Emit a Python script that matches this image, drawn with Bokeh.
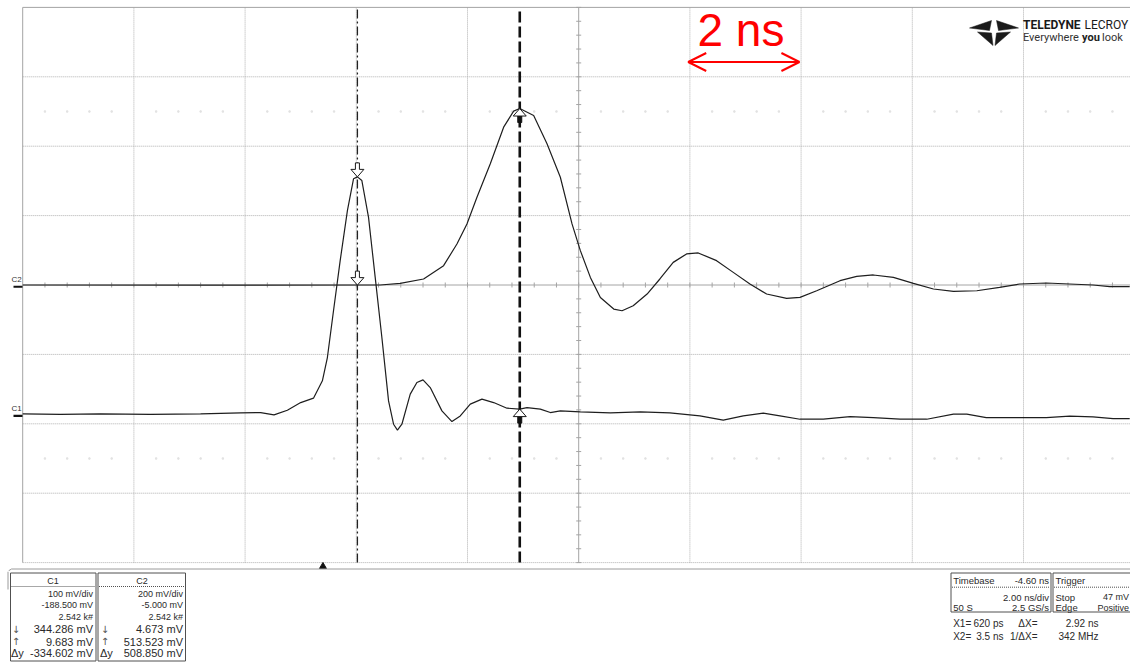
from bokeh.plotting import figure
from bokeh.models import Range1d, Arrow, OpenHead
from bokeh.layouts import column
from bokeh.core.properties import value
from bokeh.embed import file_html
from bokeh.resources import INLINE

# ---------------- data ----------------
C1_T = [-5.40, -4.72, -4.00, -3.10, -2.20, -1.48, -1.12, -0.88, -0.64, -0.40, -0.17, -0.01,
        0.08, 0.19, 0.31, 0.44, 0.55, 0.62, 0.70, 0.82, 0.94, 1.06, 1.18, 1.27, 1.34, 1.42,
        1.57, 1.69, 1.80, 1.93, 2.14, 2.32, 2.47, 2.65, 2.86, 3.07, 3.31, 3.54, 3.67, 3.91,
        4.09, 4.27, 4.63, 5.17, 5.71, 6.24, 6.78, 7.20, 7.56, 7.92, 8.22, 8.58, 9.00, 9.48,
        9.90, 10.38, 10.86, 11.34, 11.58, 11.93, 12.59, 13.01, 13.43, 13.85, 14.21, 14.51]
C1_MV = [2.8, 2.1, 2.8, 2.1, 2.8, 4.2, 4.7, 1.3, 8.1, 19.1, 25.4, 50.4,
         84.0, 151.4, 223.6, 295.7, 341.5, 344.3, 339.0, 286.0, 199.5, 112.9, 21.5, -12.1, -20.7, -12.1,
         31.2, 48.0, 51.8, 40.7, 7.1, -8.3, -0.1, 16.8, 24.0, 19.1, 11.0, 9.7, 11.9, 9.7,
         4.7, 7.1, 5.7, 4.2, 5.7, 4.2, -0.1, -6.3, -0.1, 3.8, -0.1, -4.9, -4.9, -1.1,
         -2.6, -4.9, -4.9, 2.4, 2.4, -2.6, -2.6, -2.6, -0.5, -1.5, -4.0, -4.0]

C2_T = [-5.40, -2.20, 1.03, 1.39, 1.81, 2.17, 2.41, 2.59, 2.77, 3.01, 3.25, 3.43, 3.54, 3.79,
        4.03, 4.27, 4.48, 4.63, 4.81, 4.99, 5.23, 5.38, 5.58, 5.83, 6.06, 6.30, 6.54, 6.75,
        7.08, 7.38, 7.68, 7.98, 8.34, 8.58, 8.88, 9.30, 9.60, 9.90, 10.26, 10.62, 10.98,
        11.34, 11.76, 12.17, 12.53, 13.01, 13.43, 13.85, 14.15, 14.51]
C2_MV = [5.0, 4.7, 5.0, 9.6, 22.3, 60.7, 123.3, 181.0, 257.8, 354.2, 459.8, 506.0, 513.5, 493.6,
         411.9, 315.5, 181.0, 104.0, 26.9, -30.8, -64.3, -69.2, -54.7, -21.0, 22.3, 70.2, 94.5, 97.4,
         75.1, 41.4, 7.9, -21.0, -33.7, -30.8, -11.5, 17.4, 29.8, 33.9, 26.9, 9.6, -6.5,
         -13.5, -11.5, -1.9, 7.9, 10.8, 7.9, 5.0, 0.1, 0.1]

C1_VDIV, C1_OFFSET = 100.0, -188.5
C2_VDIV, C2_OFFSET = 200.0, -5.0
NS_PER_DIV = 2.0
T_LEFT = -5.4          # time at the left edge of the graticule (ns)
TRIGGER_T = 0.0
X1_T, X2_T = 0.62, 3.54
C1_AT_CURSORS = [344.286, 9.683]
C2_AT_CURSORS = [4.673, 513.523]
SCALE_BAR_START, SCALE_BAR_LEN = 6.57, 2.0
SCALE_BAR_TEXT = "2 ns"

CH_NAMES = ["C1", "C2"]
C1_INFO = ["100 mV/div", "-188.500 mV", "2.542 k#"]
C1_MEAS = ["344.286 mV", "9.683 mV", "-334.602 mV"]
C2_INFO = ["200 mV/div", "-5.000 mV", "2.542 k#"]
C2_MEAS = ["4.673 mV", "513.523 mV", "508.850 mV"]
MEAS_SYMBOLS = ["\u2193", "\u2191", "\u0394y"]
TIMEBASE_TXT = ["Timebase", "-4.60 ns", "2.00 ns/div", "50 S", "2.5 GS/s"]
TRIGGER_TXT = ["Trigger", "Stop", "47 mV", "Edge", "Positive"]
CURSOR_ROW1 = ["X1=", "620 ps", "\u0394X=", "2.92 ns"]
CURSOR_ROW2 = ["X2=", "3.5 ns", "1/\u0394X=", "342 MHz"]
LOGO_TXT = ["TELEDYNE", "LECROY", "Everywhere", "you", "look"]

# ---------------- layout helpers (page pixels -> plot units) ----------------
W, H1, H2 = 1130, 571, 94
PX_NS = 55.6
PX_DIV = 69.4
X_GRID0 = 22.2
Y_CENTER = 284.5
FONT = value("Liberation Sans")


def px_t(x):
    return T_LEFT + (x - X_GRID0) / PX_NS


def py_d(y):
    return (Y_CENTER - y) / PX_DIV


Y_TOP = py_d(0)
Y_BOT = py_d(H1)
X_END = px_t(W)

p1 = figure(width=W, height=H1, x_range=Range1d(px_t(0), X_END), y_range=Range1d(Y_BOT, Y_TOP),
            output_backend="svg", toolbar_location=None, x_axis_type=None, y_axis_type=None,
            min_border=0, outline_line_color=None, background_fill_color="white",
            border_fill_color="white")
p1.extra_y_ranges = {
    "c1": Range1d(Y_BOT * C1_VDIV - C1_OFFSET, Y_TOP * C1_VDIV - C1_OFFSET),
    "c2": Range1d(Y_BOT * C2_VDIV - C2_OFFSET, Y_TOP * C2_VDIV - C2_OFFSET),
}

# graticule
CENTER_T = T_LEFT + 5 * NS_PER_DIV
vgrid = [T_LEFT + NS_PER_DIV * k for k in range(1, 10) if k != 5]
hgrid = [-4, -3, -2, -1, 1, 2, 3]
p1.segment(x0=vgrid, y0=-4, x1=vgrid, y1=4, line_color="#b0b0b0", line_width=1, line_dash="1 1")
p1.segment(x0=T_LEFT, y0=hgrid, x1=X_END, y1=hgrid, line_color="#b0b0b0", line_width=1, line_dash="1 1")
faint = [T_LEFT + 0.4 * i for i in range(1, 50) if i % 5 != 0]
p1.scatter(faint, [2.5] * len(faint), marker="square", size=1.4, color="#e2e2e2")
p1.scatter(faint, [-2.5] * len(faint), marker="square", size=1.4, color="#e2e2e2")
# borders and centre axes
p1.segment(x0=[T_LEFT, CENTER_T], y0=[-4, -4], x1=[T_LEFT, CENTER_T], y1=[4, 4],
           line_color="#a4a4a4", line_width=1)
p1.segment(x0=[T_LEFT, T_LEFT], y0=[4, 0], x1=[X_END, X_END], y1=[4, 0],
           line_color="#a4a4a4", line_width=1)
ht = [T_LEFT + 0.4 * i for i in range(1, 50)]
p1.segment(x0=ht, y0=-2.5 / PX_DIV, x1=ht, y1=2.5 / PX_DIV, line_color="#a4a4a4", line_width=1)
vt = [0.2 * i for i in range(-20, 21) if i != 0]
p1.segment(x0=CENTER_T - 2.5 / PX_NS, y0=vt, x1=CENTER_T + 2.5 / PX_NS, y1=vt,
           line_color="#a4a4a4", line_width=1)

# traces
p1.line(C2_T, C2_MV, y_range_name="c2", line_color="#1e1e1e", line_width=1.2)
p1.line(C1_T, C1_MV, y_range_name="c1", line_color="#1e1e1e", line_width=1.2)

# cursors
p1.segment(x0=[X1_T], y0=[-4], x1=[X1_T], y1=[4], line_color="#222222", line_width=1.3,
           line_dash="9 3 2 3")
p1.segment(x0=[X2_T], y0=[-4], x1=[X2_T], y1=[4], line_color="#111111", line_width=2.6,
           line_dash="11 4")

DOWN_ARROW = [(0, 0), (6.5, 7.5), (2, 7.5), (2, 14), (-2, 14), (-2, 7.5), (-6.5, 7.5)]
UP_HEAD = [(0, 0), (6.5, -7.5), (-6.5, -7.5)]
UP_SHAFT = [(-2, -7.5), (2, -7.5), (2, -14), (-2, -14)]


def shape_at(t, v, vdiv, shape):
    k = vdiv / PX_DIV
    return [t + dx / PX_NS for dx, dy in shape], [v + dy * k for dx, dy in shape]


for name, vdiv, vals in (("c1", C1_VDIV, C1_AT_CURSORS), ("c2", C2_VDIV, C2_AT_CURSORS)):
    sx, sy = shape_at(X2_T, vals[1], vdiv, UP_SHAFT)
    p1.patches([sx], [sy], y_range_name=name, fill_color="#111111", line_color="#111111")
    dx_, dy_ = shape_at(X1_T, vals[0], vdiv, DOWN_ARROW)
    hx, hy = shape_at(X2_T, vals[1], vdiv, UP_HEAD)
    p1.patches([dx_, hx], [dy_, hy], y_range_name=name, fill_color="white", line_color="#1a1a1a",
               line_width=1)

# channel ground markers
g1 = (0 + C1_OFFSET) / C1_VDIV
g2 = (0 + C2_OFFSET) / C2_VDIV
p1.segment(x0=px_t(13), y0=[g1, g2], x1=px_t(22), y1=[g1, g2], line_color="#111111", line_width=2.2)
p1.text(x=[px_t(11), px_t(11)], y=[g1 + 2.5 / PX_DIV, g2 + 2.5 / PX_DIV], text=CH_NAMES,
        text_font=FONT, text_font_size="8px", text_color="#333333", text_baseline="bottom")

# trigger marker
p1.scatter([TRIGGER_T], [py_d(566)], marker="triangle", size=7, color="#111111")

# info-panel outline top
p1.line([px_t(7.5), px_t(8.5), px_t(11), px_t(W)], [py_d(571), py_d(570), py_d(568.5), py_d(568.5)],
        line_color="#9a9a9a", line_width=1)

# 2 ns scale annotation
ay = py_d(61.5)
p1.add_layout(Arrow(x_start=SCALE_BAR_START, y_start=ay, x_end=SCALE_BAR_START + SCALE_BAR_LEN, y_end=ay,
                    line_color="#ff0000", line_width=2,
                    start=OpenHead(size=18, line_color="#ff0000", line_width=2),
                    end=OpenHead(size=18, line_color="#ff0000", line_width=2)))
p1.text(x=[px_t(697)], y=[py_d(29.5)], text=[SCALE_BAR_TEXT], text_font=FONT, text_font_size="46px",
        text_color="#ff0000", text_baseline="middle")

# logo
LOGO = [
    [(969, 27.5), (991, 20), (989, 30)],
    [(1018, 27.5), (996, 20), (998, 30)],
    [(977, 31.5), (991, 32.5), (992.5, 45)],
    [(1010, 31.5), (996, 32.5), (994.5, 45)],
]
p1.patches([[px_t(x) for x, y in tri] for tri in LOGO], [[py_d(y) for x, y in tri] for tri in LOGO],
           fill_color="#1a1a1a", line_color="#1a1a1a", line_width=0.5)
RB = value("Roboto")
p1.text(x=[px_t(1022.5)], y=[py_d(24.8)], text=[LOGO_TXT[0]], text_font=RB, text_font_size="12px",
        text_font_style="bold", text_color="#1a1a1a", text_baseline="middle")
p1.text(x=[px_t(1084)], y=[py_d(24.8)], text=[LOGO_TXT[1]], text_font=RB, text_font_size="12px",
        text_color="#1a1a1a", text_baseline="middle")
p1.text(x=[px_t(1022.5), px_t(1101.5)], y=[py_d(37), py_d(37)], text=[LOGO_TXT[2], LOGO_TXT[4]],
        text_font=RB, text_font_size="11px", text_color="#333333", text_baseline="middle")
p1.text(x=[px_t(1081.5)], y=[py_d(37)], text=[LOGO_TXT[3]], text_font=RB, text_font_size="11px",
        text_font_style="bold", text_color="#222222", text_baseline="middle")

# ---------------- info panel ----------------
p2 = figure(width=W, height=H2, x_range=Range1d(0, W), y_range=Range1d(665, 571),
            output_backend="svg", toolbar_location=None, x_axis_type=None, y_axis_type=None,
            min_border=0, outline_line_color=None, background_fill_color="white",
            border_fill_color="white")
p2.segment(x0=[7.5], y0=[571], x1=[7.5], y1=[589], line_color="#9a9a9a", line_width=1)
p2.quad(left=[10, 97.5, 950.5, 1052.5], right=[95.5, 185, 1050.5, 1145],
        top=[572.5] * 4, bottom=[660.5, 660.5, 611.5, 611.5],
        fill_color=None, line_color="#505050", line_width=1)
p2.segment(x0=[11, 98.5, 951.5, 1053.5], y0=[586, 586, 586.7, 586.7],
           x1=[94.5, 184, 1049.5, 1145], y1=[586, 586, 586.7, 586.7],
           line_color="#505050", line_width=1, line_dash="1 1")


def txt(xs, ys, texts, size, align="left", font=FONT, color="#2a2a2a"):
    p2.text(x=xs, y=ys, text=texts, text_font=font, text_font_size=f"{size}px", text_align=align,
            text_baseline="middle", text_color=color)


info_y = [593.5, 604.8, 616.5]
meas_y = [628.7, 641.0, 652.5]
for cx, rx, ax, dx, info, meas, nm in ((52.5, 92.5, 15.5, 10.5, C1_INFO, C1_MEAS, CH_NAMES[0]),
                                        (141.5, 182.5, 104.5, 99.5, C2_INFO, C2_MEAS, CH_NAMES[1])):
    txt([cx], [580], [nm], 9, "center")
    txt([rx] * 3, info_y, info, 9, "right")
    txt([rx] * 3, meas_y, meas, 11, "right")
    txt([ax, ax], meas_y[:2], MEAS_SYMBOLS[:2], 10, "center", value("DejaVu Sans"), "#555555")
    txt([dx], meas_y[2:], MEAS_SYMBOLS[2:], 11, "left")

txt([952.7, 1055], [580, 580], [TIMEBASE_TXT[0], TRIGGER_TXT[0]], 9.5, "left")
txt([1048.5], [580], [TIMEBASE_TXT[1]], 9.5, "right")
txt([1048.5], [596.7], [TIMEBASE_TXT[2]], 9.5, "right")
txt([952.7], [607.3], [TIMEBASE_TXT[3]], 9.5, "left")
txt([1048.5], [607.3], [TIMEBASE_TXT[4]], 9.5, "right")
txt([1055, 1055], [596.7, 607.3], [TRIGGER_TXT[1], TRIGGER_TXT[3]], 9.5, "left")
txt([1128.5, 1128.5], [596.7, 607.3], [TRIGGER_TXT[2], TRIGGER_TXT[4]], 9, "right")

for yy, row in ((623.3, CURSOR_ROW1), (635.7, CURSOR_ROW2)):
    txt([952.7], [yy], [row[0]], 10, "left")
    txt([1003, 1037, 1098], [yy] * 3, row[1:], 10, "right")

layout = column(p1, p2)
open("out.html", "w").write(file_html(layout, INLINE))
